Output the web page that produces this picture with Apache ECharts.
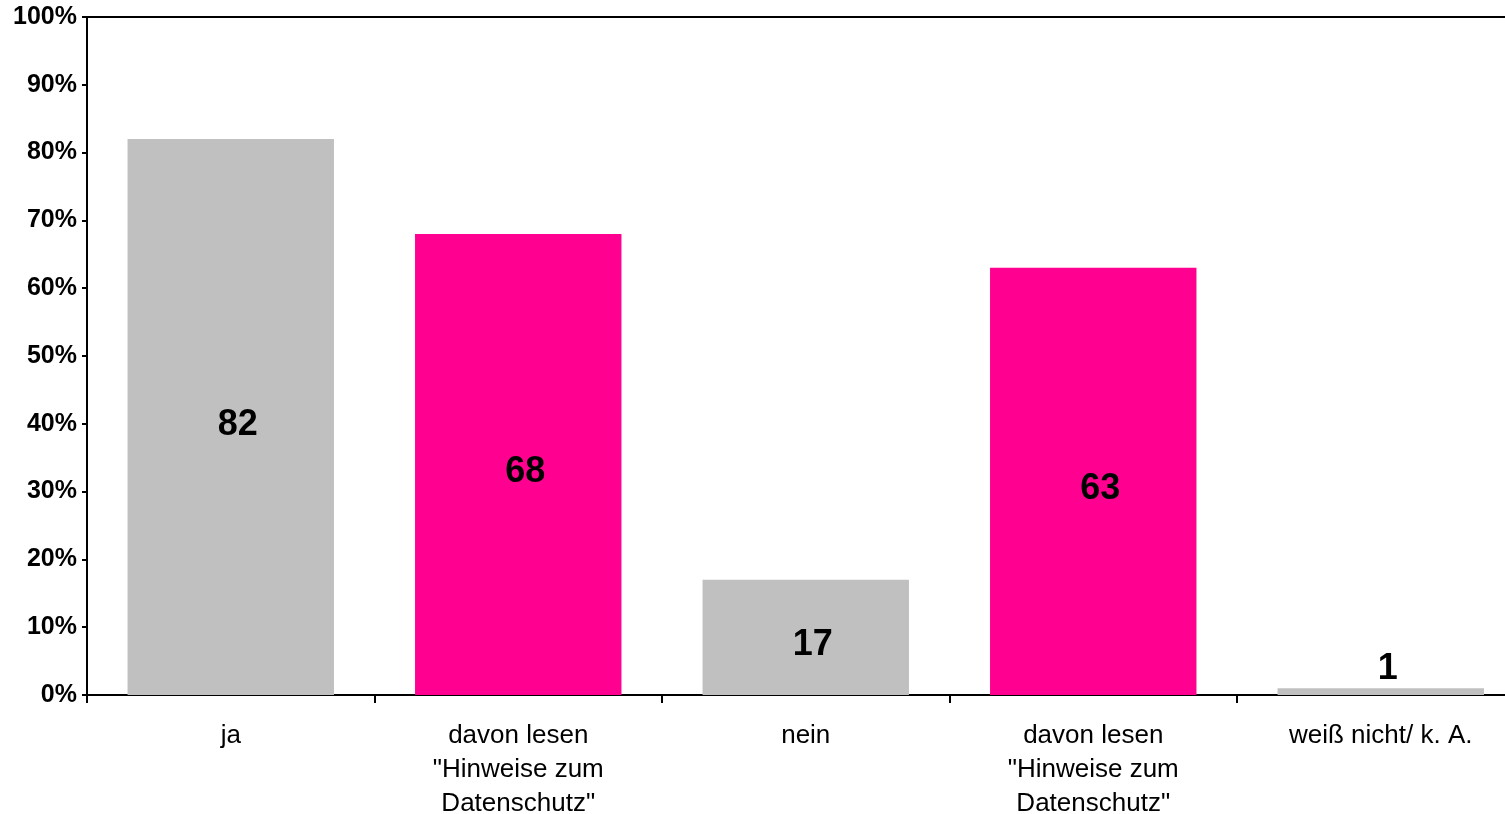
<!DOCTYPE html>
<html><head><meta charset="utf-8">
<script src="https://cdn.jsdelivr.net/npm/echarts@6/dist/echarts.min.js"></script>
<style>html,body{margin:0;padding:0;background:#fff}#c{width:1505px;height:814px}</style>
</head><body><div id="c"></div>
<script>
const categories = ['ja', 'davon lesen\n"Hinweise zum\nDatenschutz"', 'nein', 'davon lesen\n"Hinweise zum\nDatenschutz"', 'weiß nicht/ k. A.'];
const values = [82, 68, 17, 63, 1];
const barColors = ['#C0C0C0', '#FF0090', '#C0C0C0', '#FF0090', '#C0C0C0'];
const yTicks = [0, 10, 20, 30, 40, 50, 60, 70, 80, 90, 100];

const FONT = '"Liberation Sans", Arial, sans-serif';
const data = values.map((v, i) => ({
  value: v,
  itemStyle: { color: barColors[i] },
  label: v < 5 ? { position: 'top', distance: 6, offset: [7, 5] } : { position: 'inside', offset: [7, 8] }
}));

const chart = echarts.init(document.getElementById('c'), null, { renderer: 'canvas' });
chart.setOption({
  animation: false,
  backgroundColor: '#fff',
  grid: { left: 87, top: 17, width: 1437.5, height: 678, containLabel: false, outerBoundsMode: 'none', show: true, borderColor: '#000', borderWidth: 2, backgroundColor: 'transparent' },
  xAxis: {
    type: 'category',
    data: categories,
    boundaryGap: true,
    axisLine: { lineStyle: { color: '#000', width: 2 } },
    axisTick: { show: true, alignWithLabel: false, length: 8, lineStyle: { color: '#000', width: 2 } },
    axisLabel: { color: '#000', fontFamily: FONT, fontSize: 26, lineHeight: 34, margin: 24, interval: 0 }
  },
  yAxis: {
    type: 'value',
    min: yTicks[0],
    max: yTicks[yTicks.length - 1],
    interval: 10,
    splitLine: { show: false },
    axisLine: { show: true, lineStyle: { color: '#000', width: 2 } },
    axisTick: { show: true, length: 5, lineStyle: { color: '#000', width: 2 } },
    axisLabel: { color: '#000', fontFamily: FONT, fontSize: 25, fontWeight: 'bold', margin: 10, padding: [5, 0, 0, 0], formatter: '{value}%' }
  },
  series: [{
    type: 'bar',
    data: data,
    barWidth: '71.8%',
    label: { show: true, color: '#000', fontFamily: FONT, fontSize: 36, fontWeight: 'bold' }
  }]
});
</script></body></html>
